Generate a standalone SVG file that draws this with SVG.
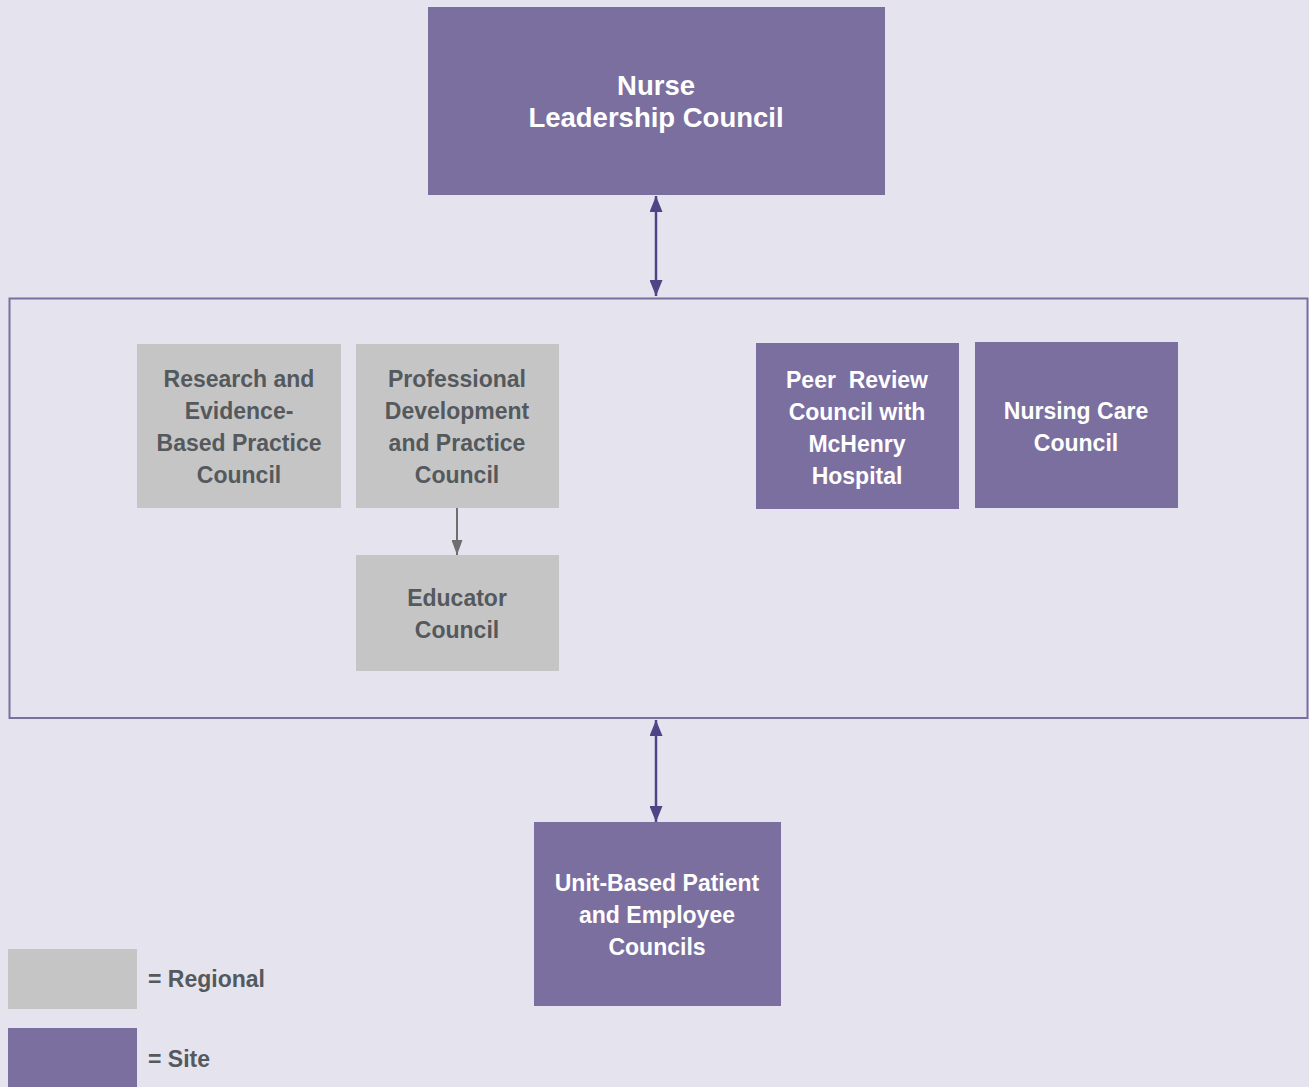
<svg xmlns="http://www.w3.org/2000/svg" width="1309" height="1087" viewBox="0 0 1309 1087">
<defs>
<style>
.bg{fill:#E5E3EE}
.site{fill:#7B6FA0}
.reg{fill:#C6C5C6}
.t{font-family:"Liberation Sans",Arial,sans-serif;font-weight:bold;font-size:23px;text-anchor:middle}
.tw{fill:#FFFFFF}
.tg{fill:#54595D}
.conn{stroke:#4E4587;stroke-width:2.5;fill:none}
.connG{stroke:#6E6E70;stroke-width:2;fill:none}
</style>
<marker id="ap" viewBox="0 0 16 13" refX="16" refY="6.5" markerWidth="16" markerHeight="13" orient="auto-start-reverse" markerUnits="userSpaceOnUse"><path d="M0,0 L16,6.5 L0,13 z" fill="#4E4587"/></marker>
<marker id="ag" viewBox="0 0 15 11" refX="15" refY="5.5" markerWidth="15" markerHeight="11" orient="auto" markerUnits="userSpaceOnUse"><path d="M0,0 L15,5.5 L0,11 z" fill="#6E6E70"/></marker>
</defs>
<rect class="bg" x="0" y="0" width="1309" height="1087"/>
<rect id="frame" x="9.5" y="298.5" width="1298" height="419.5" fill="none" stroke="#7B6FA0" stroke-width="2"/>
<g id="connectors">
<line class="conn" x1="656" y1="196" x2="656" y2="296" marker-start="url(#ap)" marker-end="url(#ap)"/>
<line class="conn" x1="656" y1="720" x2="656" y2="822" marker-start="url(#ap)" marker-end="url(#ap)"/>
<line class="connG" x1="457" y1="508" x2="457" y2="555" marker-end="url(#ag)"/>
</g>
<g id="nurse-leadership">
<rect class="site" x="428" y="7" width="457" height="188"/>
<text class="t tw" style="font-size:27.5px" x="656" y="95">Nurse</text>
<text class="t tw" style="font-size:27.5px" x="656" y="127">Leadership Council</text>
</g>
<g id="research">
<rect class="reg" x="137" y="344" width="204" height="164"/>
<text class="t tg" x="239" y="387">Research and</text>
<text class="t tg" x="239" y="419">Evidence-</text>
<text class="t tg" x="239" y="451">Based Practice</text>
<text class="t tg" x="239" y="483">Council</text>
</g>
<g id="professional">
<rect class="reg" x="356" y="344" width="203" height="164"/>
<text class="t tg" x="457" y="387">Professional</text>
<text class="t tg" x="457" y="419">Development</text>
<text class="t tg" x="457" y="451">and Practice</text>
<text class="t tg" x="457" y="483">Council</text>
</g>
<g id="educator">
<rect class="reg" x="356" y="555" width="203" height="116"/>
<text class="t tg" x="457" y="606">Educator</text>
<text class="t tg" x="457" y="638">Council</text>
</g>
<g id="peer-review">
<rect class="site" x="756" y="343" width="203" height="166"/>
<text class="t tw" x="857" y="388" xml:space="preserve">Peer  Review</text>
<text class="t tw" x="857" y="420">Council with</text>
<text class="t tw" x="857" y="452">McHenry</text>
<text class="t tw" x="857" y="484">Hospital</text>
</g>
<g id="nursing-care">
<rect class="site" x="975" y="342" width="203" height="166"/>
<text class="t tw" x="1076" y="419">Nursing Care</text>
<text class="t tw" x="1076" y="451">Council</text>
</g>
<g id="unit-based">
<rect class="site" x="534" y="822" width="247" height="184"/>
<text class="t tw" x="657" y="891">Unit-Based Patient</text>
<text class="t tw" x="657" y="923">and Employee</text>
<text class="t tw" x="657" y="955">Councils</text>
</g>
<g id="legend">
<rect class="reg" x="8" y="949" width="129" height="60"/>
<text class="t tg" style="text-anchor:start" x="148" y="987">= Regional</text>
<rect class="site" x="8" y="1028" width="129" height="59"/>
<text class="t tg" style="text-anchor:start" x="148" y="1067">= Site</text>
</g>
</svg>
